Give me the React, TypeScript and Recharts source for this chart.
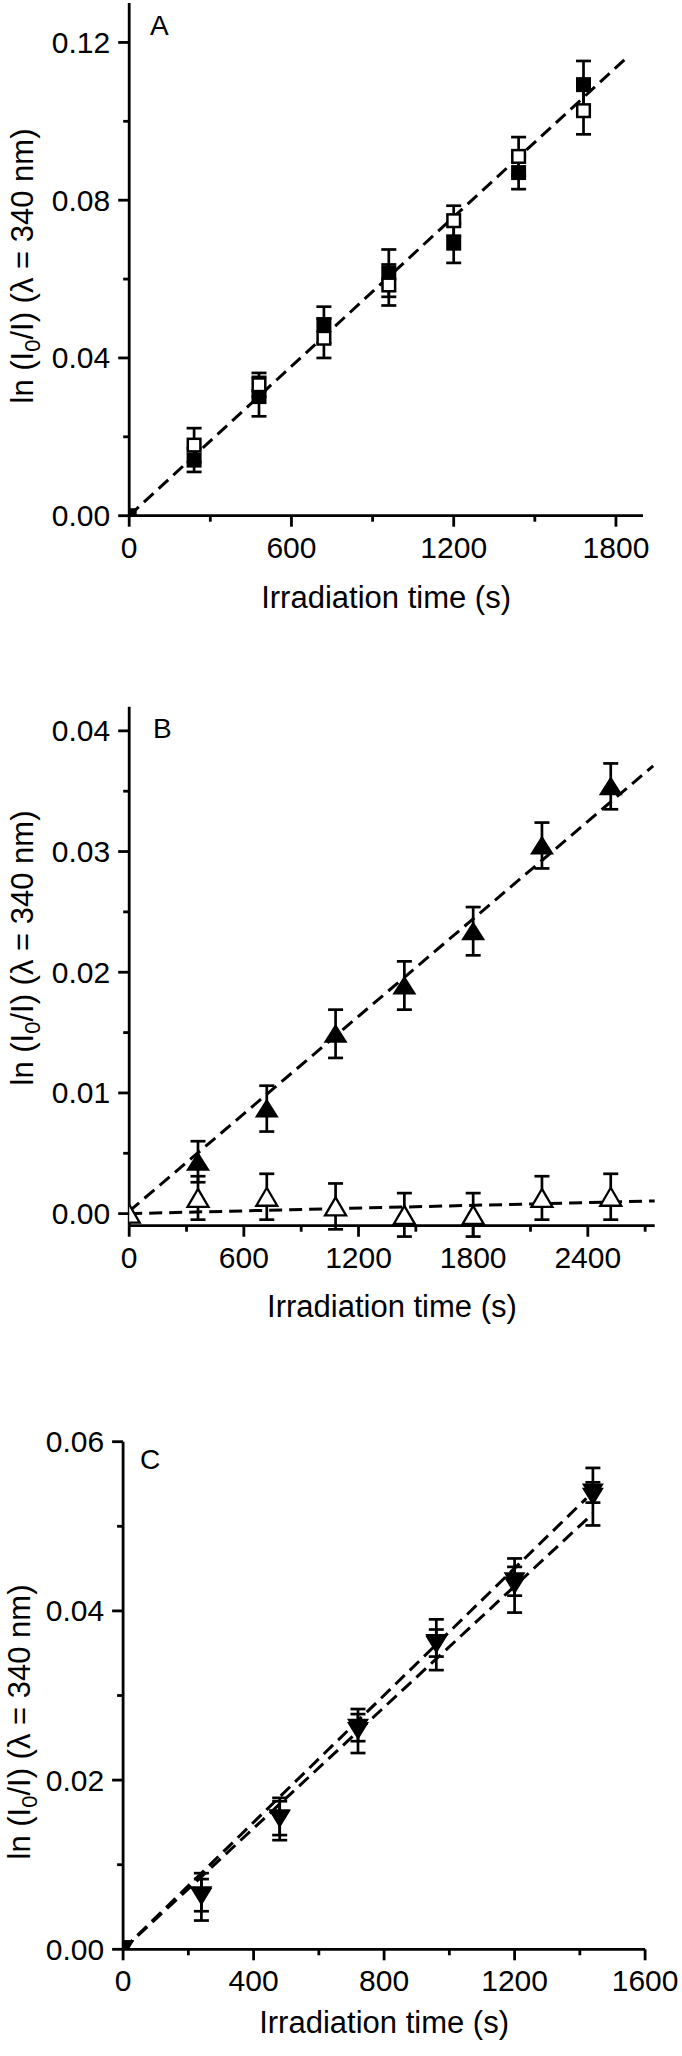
import React from 'react';
import { ScatterChart, Scatter, XAxis, YAxis, ErrorBar, ReferenceLine, Label } from 'recharts';

// ---------- Panel A data ----------
const A_X_FILLED = [0, 240, 480, 720, 960, 1200, 1440, 1680];
const A_Y_FILLED = [0, 0.0141, 0.0302, 0.0484, 0.0615, 0.0691, 0.087, 0.1093];
const A_E_FILLED = [0, 0.003, 0.005, 0.0046, 0.006, 0.005, 0.0042, 0.006];
const A_X_OPEN = [240, 480, 720, 960, 1200, 1440, 1680];
const A_Y_OPEN = [0.0179, 0.0332, 0.045, 0.0585, 0.0748, 0.0911, 0.1027];
const A_E_OPEN = [0.0043, 0.003, 0.005, 0.0052, 0.0038, 0.0049, 0.006];
const A_FIT = [{ x: 0, y: 0 }, { x: 1847, y: 0.1166 }];
const A_X_MAJOR = [0, 600, 1200, 1800];
const A_X_MINOR = [300, 900, 1500];
const A_Y_MAJOR = [0, 0.04, 0.08, 0.12];
const A_Y_MINOR = [0.02, 0.06, 0.1];

// ---------- Panel B data ----------
const B_X_FILLED = [360, 720, 1080, 1440, 1800, 2160, 2520];
const B_Y_FILLED = [0.0043, 0.0087, 0.0149, 0.0189, 0.0234, 0.0305, 0.0354];
const B_E_FILLED = [0.0017, 0.0019, 0.002, 0.002, 0.002, 0.0019, 0.0019];
const B_X_OPEN = [0, 360, 720, 1080, 1440, 1800, 2160, 2520];
const B_Y_OPEN = [0, 0.0013, 0.0014, 0.0006, -0.0001, -0.0001, 0.0013, 0.0014];
const B_E_OPEN = [0, 0.0018, 0.0019, 0.0019, 0.0018, 0.0018, 0.0018, 0.0019];
const B_FIT_FILLED = [{ x: 0, y: 0.0002 }, { x: 2742, y: 0.0371 }];
const B_FIT_OPEN = [{ x: 0, y: 0 }, { x: 2750, y: 0.00105 }];
const B_X_MAJOR = [0, 600, 1200, 1800, 2400];
const B_X_MINOR = [300, 900, 1500, 2100, 2700];
const B_Y_MAJOR = [0, 0.01, 0.02, 0.03, 0.04];
const B_Y_MINOR = [0.005, 0.015, 0.025, 0.035];

// ---------- Panel C data ----------
const C_X = [0, 240, 480, 720, 960, 1200, 1440];
const C_Y1 = [0, 0.0062, 0.0154, 0.0258, 0.036, 0.043, 0.0535];
const C_E1 = [0, 0.0028, 0.0025, 0.0026, 0.003, 0.0032, 0.0034];
const C_Y2 = [0, 0.0064, 0.0155, 0.0262, 0.0362, 0.0435, 0.054];
const C_E2 = [0, 0.0019, 0.002, 0.0016, 0.0016, 0.0017, 0.0012];
const C_FIT1 = [{ x: 0, y: 0 }, { x: 1420, y: 0.0533 }];
const C_FIT2 = [{ x: 0, y: 0 }, { x: 1440, y: 0.0515 }];
const C_X_MAJOR = [0, 400, 800, 1200, 1600];
const C_X_MINOR = [200, 600, 1000, 1400];
const C_Y_MAJOR = [0, 0.02, 0.04, 0.06];
const C_Y_MINOR = [0.01, 0.03, 0.05];

const X_TITLE = 'Irradiation time (s)';

const FONT = "'Liberation Sans', Arial, Helvetica, sans-serif";
const AXIS_W = 2.8;
const LINE_W = 3;
const DASH = '13 7';
const TICK_FS = 30;
const TITLE_FS = 31;

const pts = (xs: number[], ys: number[], es: number[]) =>
  xs.map((x, i) => ({ x, y: ys[i], err: es[i] }));

const isMajor = (majors: number[], v: number) => majors.some((m) => Math.abs(m - v) < 1e-9);

const makeXTick = (majors: number[]) => (props: any) => {
  const { x, y, payload } = props;
  const v = payload.value;
  const major = isMajor(majors, v);
  return (
    <g>
      <line x1={x} y1={y} x2={x} y2={y + (major ? 11 : 6)} stroke="#000" strokeWidth={AXIS_W} />
      {major && (
        <text x={x} y={y + 42} textAnchor="middle" fontFamily={FONT} fontSize={TICK_FS} fill="#000">
          {String(v)}
        </text>
      )}
    </g>
  );
};

const makeYTick = (majors: number[]) => (props: any) => {
  const { x, y, payload } = props;
  const v = payload.value;
  const major = isMajor(majors, v);
  return (
    <g>
      <line x1={x - (major ? 11 : 6)} y1={y} x2={x} y2={y} stroke="#000" strokeWidth={AXIS_W} />
      {major && (
        <text x={x - 19} y={y + 10.5} textAnchor="end" fontFamily={FONT} fontSize={TICK_FS} fill="#000">
          {v.toFixed(2)}
        </text>
      )}
    </g>
  );
};

const xTitle = (dy: number) => (props: any) => {
  const vb = props.viewBox || {};
  return (
    <text x={vb.x + vb.width / 2} y={vb.y + dy} textAnchor="middle" fontFamily={FONT} fontSize={TITLE_FS} fill="#000">
      {X_TITLE}
    </text>
  );
};

const yTitle = (bx: number, cy: number) => () => (
  <text
    x={bx}
    y={cy}
    transform={`rotate(-90 ${bx} ${cy})`}
    textAnchor="middle"
    fontFamily={FONT}
    fontSize={TITLE_FS}
    fill="#000"
  >
    ln (I<tspan dy={7} fontSize={22}>0</tspan>
    <tspan dy={-7}>/I) (λ = 340 nm)</tspan>
  </text>
);

const SquareFilled = (p: any) =>
  p.cx == null ? <g /> : <rect x={p.cx - 7.5} y={p.cy - 7.5} width={15} height={15} fill="#000" />;
const SquareOpen = (p: any) =>
  p.cx == null ? <g /> : (
    <rect x={p.cx - 6.3} y={p.cy - 6.3} width={12.6} height={12.6} fill="#fff" stroke="#000" strokeWidth={2.5} />
  );
const TriUpFilled = (p: any) =>
  p.cx == null ? <g /> : (
    <path d={`M${p.cx},${p.cy - 10} L${p.cx + 12},${p.cy + 9} L${p.cx - 12},${p.cy + 9} Z`} fill="#000" />
  );
const TriUpOpen = (p: any) =>
  p.cx == null ? <g /> : (
    <path
      d={`M${p.cx},${p.cy - 9} L${p.cx + 10.5},${p.cy + 9} L${p.cx - 10.5},${p.cy + 9} Z`}
      fill="#fff"
      stroke="#000"
      strokeWidth={2.3}
      strokeLinejoin="miter"
    />
  );
const TriDown = (p: any) =>
  p.cx == null ? <g /> : (
    <path d={`M${p.cx - 11},${p.cy - 9} L${p.cx + 11},${p.cy - 9} L${p.cx},${p.cy + 9} Z`} fill="#000" />
  );

const axisLine = { stroke: '#000', strokeWidth: AXIS_W };

const errBar = <ErrorBar dataKey="err" direction="y" width={7.5} strokeWidth={2.7} stroke="#000" />;

function PanelA() {
  return (
    <ScatterChart width={682} height={640} margin={{ top: 3, right: 39, bottom: 0, left: 0 }}>
      <XAxis
        type="number"
        dataKey="x"
        domain={[0, 1900]}
        allowDataOverflow
        ticks={[...A_X_MAJOR, ...A_X_MINOR].sort((a, b) => a - b)}
        interval={0}
        height={124.3}
        axisLine={axisLine}
        tickLine={false}
        tickSize={0}
        tickMargin={0}
        tick={makeXTick(A_X_MAJOR)}
      >
        <Label content={xTitle(92.5)} />
      </XAxis>
      <YAxis
        type="number"
        dataKey="y"
        domain={[0, 0.13]}
        allowDataOverflow
        ticks={[...A_Y_MAJOR, ...A_Y_MINOR].sort((a, b) => a - b)}
        interval={0}
        width={129.2}
        axisLine={axisLine}
        tickLine={false}
        tickSize={0}
        tickMargin={0}
        tick={makeYTick(A_Y_MAJOR)}
      >
        <Label content={yTitle(33, 266)} />
      </YAxis>
      <ReferenceLine segment={A_FIT} stroke="#000" strokeWidth={LINE_W} strokeDasharray={DASH} ifOverflow="visible" />
      <Scatter data={pts(A_X_FILLED, A_Y_FILLED, A_E_FILLED)} shape={SquareFilled} isAnimationActive={false}>
        {errBar}
      </Scatter>
      <Scatter data={pts(A_X_OPEN, A_Y_OPEN, A_E_OPEN)} shape={SquareOpen} isAnimationActive={false}>
        {errBar}
      </Scatter>
    </ScatterChart>
  );
}

function PanelB() {
  return (
    <ScatterChart width={682} height={680} margin={{ top: 26.7, right: 27.3, bottom: 0, left: 0 }}>
      <XAxis
        type="number"
        dataKey="x"
        domain={[0, 2750]}
        allowDataOverflow
        ticks={[...B_X_MAJOR, ...B_X_MINOR].sort((a, b) => a - b)}
        interval={0}
        height={134.3}
        axisLine={axisLine}
        tickLine={false}
        tickSize={0}
        tickMargin={0}
        tick={makeXTick(B_X_MAJOR)}
      >
        <Label content={xTitle(91)} />
      </XAxis>
      <YAxis
        type="number"
        dataKey="y"
        domain={[-0.001, 0.042]}
        allowDataOverflow
        ticks={[...B_Y_MAJOR, ...B_Y_MINOR].sort((a, b) => a - b)}
        interval={0}
        width={129.2}
        axisLine={axisLine}
        tickLine={false}
        tickSize={0}
        tickMargin={0}
        tick={makeYTick(B_Y_MAJOR)}
      >
        <Label content={yTitle(33, 268)} />
      </YAxis>
      <ReferenceLine segment={B_FIT_FILLED} stroke="#000" strokeWidth={LINE_W} strokeDasharray={DASH} ifOverflow="visible" />
      <ReferenceLine segment={B_FIT_OPEN} stroke="#000" strokeWidth={LINE_W} strokeDasharray={DASH} ifOverflow="visible" />
      <Scatter data={pts(B_X_FILLED, B_Y_FILLED, B_E_FILLED)} shape={TriUpFilled} isAnimationActive={false}>
        {errBar}
      </Scatter>
      <Scatter data={pts(B_X_OPEN, B_Y_OPEN, B_E_OPEN)} shape={TriUpOpen} isAnimationActive={false}>
        {errBar}
      </Scatter>
    </ScatterChart>
  );
}

function PanelC() {
  return (
    <ScatterChart width={682} height={656} margin={{ top: 41.7, right: 36.9, bottom: 0, left: 0 }}>
      <XAxis
        type="number"
        dataKey="x"
        domain={[0, 1600]}
        allowDataOverflow
        ticks={[...C_X_MAJOR, ...C_X_MINOR].sort((a, b) => a - b)}
        interval={0}
        height={106.7}
        axisLine={axisLine}
        tickLine={false}
        tickSize={0}
        tickMargin={0}
        tick={makeXTick(C_X_MAJOR)}
      >
        <Label content={xTitle(84)} />
      </XAxis>
      <YAxis
        type="number"
        dataKey="y"
        domain={[0, 0.06]}
        allowDataOverflow
        ticks={[...C_Y_MAJOR, ...C_Y_MINOR].sort((a, b) => a - b)}
        interval={0}
        width={123.1}
        axisLine={axisLine}
        tickLine={false}
        tickSize={0}
        tickMargin={0}
        tick={makeYTick(C_Y_MAJOR)}
      >
        <Label content={yTitle(30, 322)} />
      </YAxis>
      <ReferenceLine segment={C_FIT1} stroke="#000" strokeWidth={LINE_W} strokeDasharray={DASH} ifOverflow="visible" />
      <ReferenceLine segment={C_FIT2} stroke="#000" strokeWidth={LINE_W} strokeDasharray={DASH} ifOverflow="visible" />
      <Scatter data={pts(C_X, C_Y1, C_E1)} shape={TriDown} isAnimationActive={false}>
        {errBar}
      </Scatter>
      <Scatter data={pts(C_X, C_Y2, C_E2)} shape={TriDown} isAnimationActive={false}>
        {errBar}
      </Scatter>
    </ScatterChart>
  );
}

export default function App() {
  return (
    <div style={{ position: 'absolute', left: 0, top: 0, width: 682, height: 2056, background: '#fff', overflow: 'hidden' }}>
      <div style={{ position: 'absolute', left: 0, top: 0 }}>
        <PanelA />
      </div>
      <div style={{ position: 'absolute', left: 0, top: 680 }}>
        <PanelB />
      </div>
      <div style={{ position: 'absolute', left: 0, top: 1400 }}>
        <PanelC />
      </div>
      <svg
        width={682}
        height={2056}
        style={{ position: 'absolute', left: 0, top: 0, pointerEvents: 'none' }}
      >
        <text x={150} y={35} fontFamily={FONT} fontSize={28} fill="#000">A</text>
        <text x={153} y={738} fontFamily={FONT} fontSize={28} fill="#000">B</text>
        <text x={140} y={1469} fontFamily={FONT} fontSize={28} fill="#000">C</text>
      </svg>
    </div>
  );
}
